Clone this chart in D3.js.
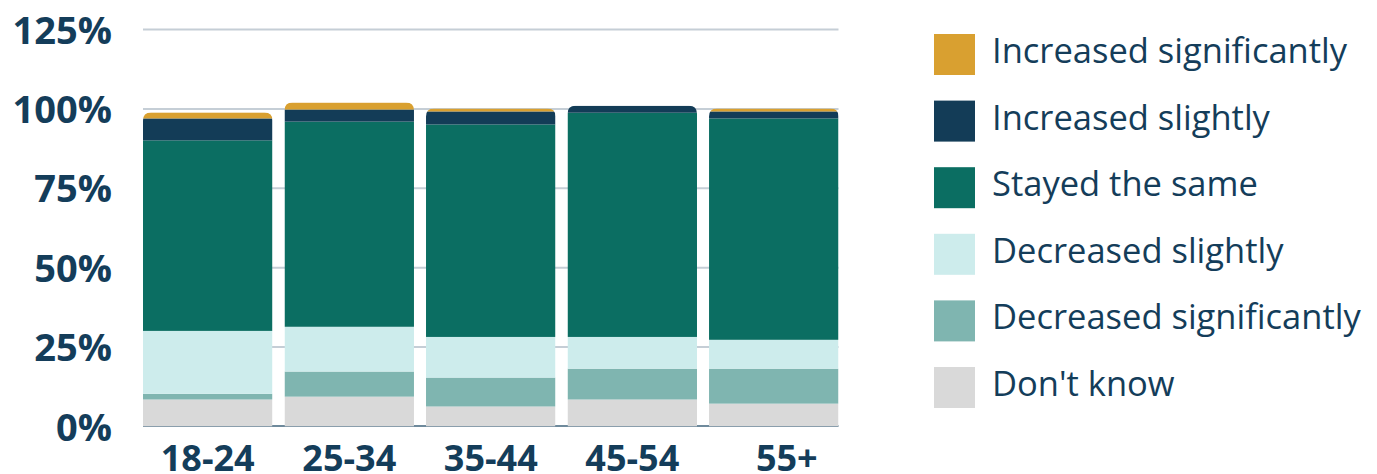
<!DOCTYPE html>
<html>
<head>
<meta charset="utf-8">
<script src="https://cdn.jsdelivr.net/npm/d3@7"></script>
<style>
  html, body { margin: 0; padding: 0; background: #fff; }
  svg { display: block; font-family: "Open Sans", sans-serif; }
</style>
</head>
<body>
<svg id="chart" width="1377" height="474"></svg>
<script>
const categories = ["18-24", "25-34", "35-44", "45-54", "55+"];
const seriesNames = ["Don't know", "Decreased significantly", "Decreased slightly", "Stayed the same", "Increased slightly", "Increased significantly"];
const dontKnow = [8.5, 9.4, 6.3, 8.5, 7.2];
const decreasedSignificantly = [1.8, 7.9, 9.1, 9.7, 11.0];
const decreasedSlightly = [19.8, 14.1, 12.8, 10.0, 9.1];
const stayedSame = [60.0, 64.6, 66.9, 70.6, 69.7];
const increasedSlightly = [6.9, 3.8, 4.1, 2.2, 2.2];
const increasedSignificantly = [1.9, 2.2, 0.9, 0, 0.9];
const yTicks = [0, 25, 50, 75, 100, 125];
const colors = ["#d9d9d9", "#7fb5b0", "#cdecec", "#0b6e62", "#133c57", "#d9a030"];
const legendOrder = ["Increased significantly", "Increased slightly", "Stayed the same", "Decreased slightly", "Decreased significantly", "Don't know"];

const seriesValues = [dontKnow, decreasedSignificantly, decreasedSlightly, stayedSame, increasedSlightly, increasedSignificantly];
const rows = categories.map((c, i) => {
  const r = { cat: c };
  seriesNames.forEach((s, k) => r[s] = seriesValues[k][i]);
  return r;
});
const stacked = d3.stack().keys(seriesNames)(rows);
const color = d3.scaleOrdinal().domain(seriesNames).range(colors);

const svg = d3.select("#chart");
const x = d3.scaleBand().domain(categories).range([143, 838.5]).paddingInner(0.085).paddingOuter(0);
const y = d3.scaleLinear().domain([0, 125]).range([426.5, 29.5]);
const textColor = "#143d5a";

// gridlines
svg.append("g").selectAll("line").data(yTicks.filter(t => t > 0)).join("line")
  .attr("x1", 143).attr("x2", 838.5)
  .attr("y1", d => y(d)).attr("y2", d => y(d))
  .attr("stroke", "#c5ced6").attr("stroke-width", 2);
// baseline
svg.append("line").attr("x1", 143).attr("x2", 838.5)
  .attr("y1", y(0) - 0.5).attr("y2", y(0) - 0.5)
  .attr("stroke", "#6f8a9c").attr("stroke-width", 2);

// clip paths with rounded tops
const totals = rows.map(r => d3.sum(seriesNames, s => r[s]));
const rad = 8;
const defs = svg.append("defs");
categories.forEach((c, i) => {
  const x0 = x(c), w = x.bandwidth(), top = y(totals[i]), bot = y(0);
  defs.append("clipPath").attr("id", "clip" + i)
    .append("path")
    .attr("d", `M${x0},${bot} L${x0},${top + rad} Q${x0},${top} ${x0 + rad},${top} L${x0 + w - rad},${top} Q${x0 + w},${top} ${x0 + w},${top + rad} L${x0 + w},${bot} Z`);
});

const barG = svg.append("g");
categories.forEach((c, i) => {
  const g = barG.append("g").attr("clip-path", `url(#clip${i})`);
  stacked.forEach(layer => {
    const d = layer[i];
    if (d[1] - d[0] <= 0) return;
    g.append("rect")
      .attr("x", x(c)).attr("width", x.bandwidth())
      .attr("y", y(d[1])).attr("height", y(d[0]) - y(d[1]))
      .attr("fill", color(layer.key));
  });
});

// y axis
const yAxis = svg.append("g").attr("transform", "translate(112,0)")
  .call(d3.axisLeft(y).tickValues(yTicks).tickFormat(d => d + "%").tickSize(0).tickPadding(0));
yAxis.select(".domain").remove();
yAxis.selectAll("text").attr("fill", textColor).attr("font-size", 38).attr("font-weight", 700)
  .attr("font-family", "Open Sans").attr("dy", "0.36em");

// x axis
const xAxis = svg.append("g").attr("transform", "translate(0,471)")
  .call(d3.axisBottom(x).tickSize(0).tickPadding(0));
xAxis.select(".domain").remove();
xAxis.selectAll("text").attr("fill", textColor).attr("font-size", 36).attr("font-weight", 700)
  .attr("font-family", "Open Sans").attr("dy", 0).attr("y", 0)
  .attr("dx", d => d === "55+" ? 13 : 0);

// legend
const lg = svg.append("g");
legendOrder.forEach((name, i) => {
  const yy = 34 + i * 66.6;
  lg.append("rect").attr("x", 934).attr("y", yy).attr("width", 41).attr("height", 41).attr("fill", color(name));
  lg.append("text").attr("x", 992).attr("y", yy + 29)
    .attr("fill", textColor).attr("font-size", 34.5).attr("font-family", "Open Sans").text(name);
});
</script>
</body>
</html>
